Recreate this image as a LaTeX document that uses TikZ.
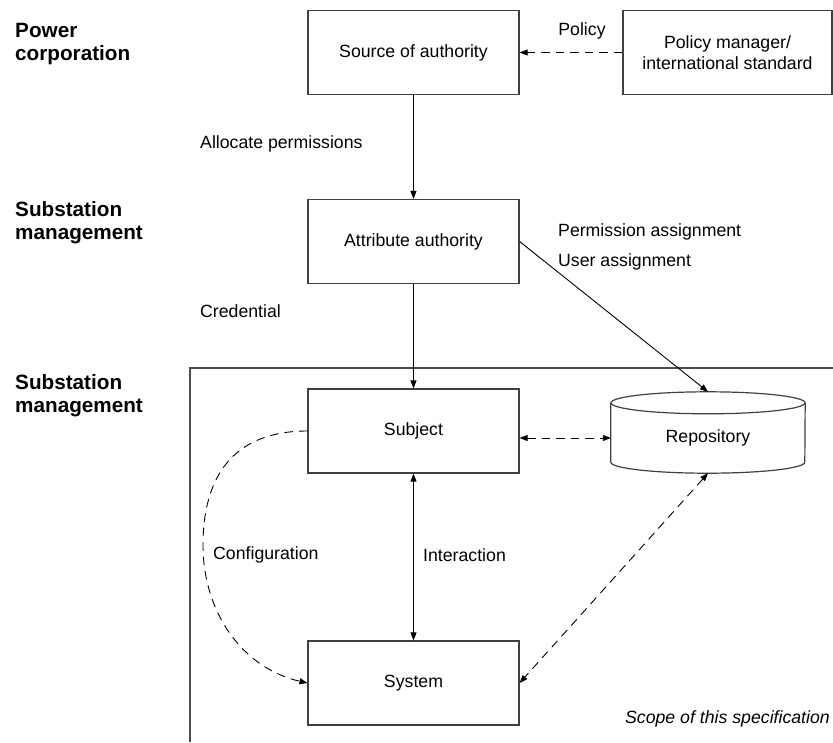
\documentclass[tikz,border=0pt]{standalone}
\usepackage{fontspec}
\setmainfont{Liberation Sans}
\usetikzlibrary{arrows.meta,calc}
\begin{document}
\begin{tikzpicture}[x=1pt,y=-1pt,
  txt/.style={font=\fontsize{17.7}{21}\selectfont},
  box/.style={txt, draw=black!75, line width=1.2pt, minimum width=211pt,
    minimum height=84pt, inner sep=0pt, align=center},
  lbl/.style={txt, inner sep=0pt, anchor=west},
  head/.style={font=\fontsize{20.7}{23}\selectfont\bfseries, inner sep=0pt,
    anchor=west, align=left},
  tip/.style={-{Triangle[length=8pt,width=6pt]}},
  solidconn/.style={line width=0.9pt, tip},
  dashconn/.style={line width=0.9pt, tip, dash pattern=on 8.5pt off 6pt},
  frame/.style={draw=black!70, line width=1.3pt}
]
\useasboundingbox (0,0) rectangle (833,742);

% level headings
\node[head] (hpower) at (15,44.5) {Power\\corporation};
\node[head] (hsub1) at (15,223) {Substation\\management};
\node[head] (hsub2) at (15,396) {Substation\\management};

% scope of the specification
\draw[frame] (833,368) -- (190,368) -- (190,742);
\node[txt, font=\fontsize{17.7}{21}\selectfont\itshape, anchor=east, inner sep=0pt]
  (scope) at (830,719) {Scope of this specification};

% boxes
\node[box] (src) at (413.5,52.5) {Source of authority};
\node[box, minimum width=209pt] (pol) at (727.5,52.5) {Policy manager/\\international standard};
\node[box] (attr) at (413.5,241.5) {Attribute authority};
\node[box] (subj) at (413.5,431) {Subject};
\node[box] (sys) at (413.5,683) {System};

% repository cylinder
\node[minimum width=194pt, minimum height=81pt, inner sep=0pt] (repo) at (708,432.5) {};
\draw[draw=black!75, line width=1.2pt]
  ($(repo.north)+(0,11)$) ellipse [x radius=97pt, y radius=11pt];
\draw[draw=black!75, line width=1.2pt]
  ($(repo.north west)+(0,11)$) -- ($(repo.south west)+(0,-11)$)
  arc[start angle=180, end angle=360, x radius=97pt, y radius=11pt]
  -- ($(repo.north east)+(0,11)$);
\node[txt, inner sep=0pt] (repotxt) at (708,438) {Repository};

% connectors
\draw[dashconn] (pol.west) -- (src.east);
\node[txt, inner sep=0pt] (lpolicy) at (582,31) {Policy};

\draw[solidconn] (src.south) -- (attr.north);
\node[lbl] (lalloc) at (200,144) {Allocate permissions};

\draw[solidconn] (attr.south) -- (subj.north);
\node[lbl] (lcred) at (200,311) {Credential};

\draw[solidconn] (attr.east) -- (repo.north);
\node[lbl] (lperm) at (558,232) {Permission assignment};
\node[lbl] (luser) at (558,262) {User assignment};

\draw[dashconn, {Triangle[length=8pt,width=6pt]}-{Triangle[length=8pt,width=6pt]}]
  ([yshift=-7pt]subj.east) -- ([yshift=-7pt]subj.east -| repo.west);

\draw[solidconn, {Triangle[length=8pt,width=6pt]}-{Triangle[length=8pt,width=6pt]}]
  (subj.south) -- (sys.north);
\node[lbl] (linter) at (423,555) {Interaction};

\draw[dashconn] (subj.west) .. controls (232,431) and (203,478) .. (203,545)
  .. controls (203,612) and (242,668) .. (sys.west);
\node[lbl] (lconf) at (213,555) {Configuration};

\draw[dashconn, {Triangle[length=8pt,width=6pt]}-{Triangle[length=8pt,width=6pt]}]
  (repo.south) -- (sys.east);
\end{tikzpicture}
\end{document}
